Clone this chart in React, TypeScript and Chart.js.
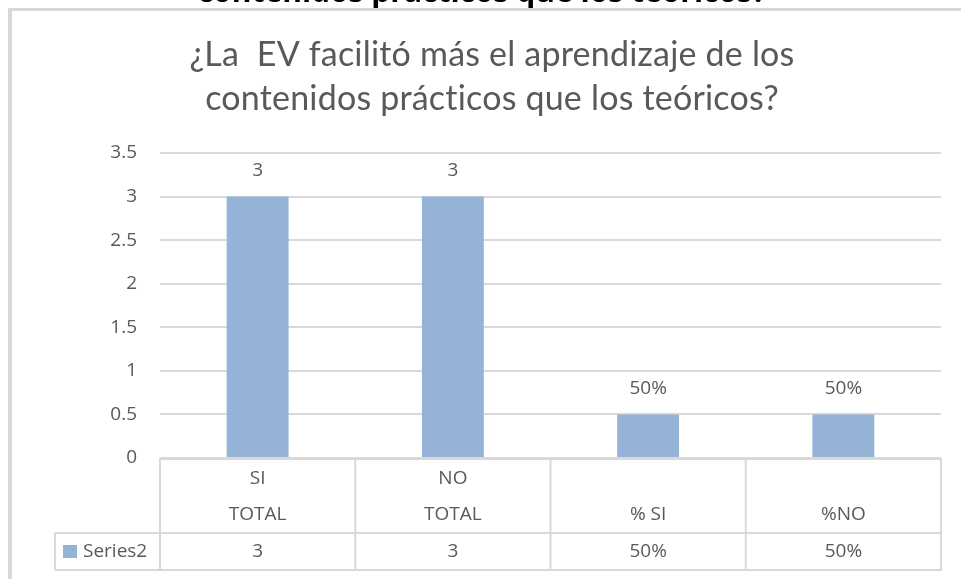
import { useEffect, useRef } from "react";
import { Chart, registerables } from "chart.js";
Chart.register(...registerables);

const pageHeading = "contenidos prácticos que los teóricos?";
const titleLines = ["¿La  EV facilitó más el aprendizaje de los", "contenidos prácticos que los teóricos?"];
const categories = [["SI", "TOTAL"], ["NO", "TOTAL"], ["% SI"], ["%NO"]];
const seriesName = "Series2";
const values = [3, 3, 0.5, 0.5];
const valueLabels = ["3", "3", "50%", "50%"];
const yMax = 3.5;
const yStep = 0.5;

const FONT = "'Open Sans', sans-serif";
const TITLE_FONT = "'Lato', sans-serif";
const TEXT = "#595959";
const LINE = "#d9d9d9";
const BAR = "#95B3D7";

const decor = {
  id: "decor",
  beforeDraw(chart: any) {
    const ctx = chart.ctx;
    ctx.save();
    ctx.fillStyle = "#ffffff";
    ctx.fillRect(0, 0, chart.width, chart.height);
    // heading (cut off at the top)
    ctx.fillStyle = "#000000";
    ctx.font = `bold 30px ${FONT}`;
    ctx.textAlign = "center";
    ctx.textBaseline = "alphabetic";
    ctx.fillText(pageHeading, 482, 2);
    ctx.fillStyle = "#ffffff";
    ctx.fillRect(0, 8, chart.width, chart.height);
    // chart frame
    ctx.fillStyle = LINE;
    ctx.fillRect(8, 8, 4, chart.height);
    ctx.fillRect(8, 8, chart.width, 3);
    // title (scaled horizontally to the reference's narrow face)
    ctx.fillStyle = TEXT;
    ctx.font = `400 35px ${TITLE_FONT}`;
    try {
      (ctx as any).letterSpacing = "0.2px";
    } catch (e) {}
    ctx.textAlign = "center";
    ctx.textBaseline = "alphabetic";
    const w = ctx.measureText(titleLines[0]).width;
    const sx = 605 / w;
    ctx.save();
    ctx.translate(492, 0);
    ctx.scale(sx, 1);
    ctx.fillText(titleLines[0], 0, 66);
    ctx.fillText(titleLines[1], 0, 110);
    ctx.restore();
    try {
      (ctx as any).letterSpacing = "0px";
    } catch (e) {}
    ctx.restore();
  },
  afterDatasetsDraw(chart: any) {
    const ctx = chart.ctx;
    const area = chart.chartArea;
    const meta = chart.getDatasetMeta(0);
    ctx.save();
    ctx.fillStyle = TEXT;
    ctx.font = `19px ${FONT}`;
    ctx.textAlign = "center";
    ctx.textBaseline = "middle";
    meta.data.forEach((bar: any, i: number) => {
      ctx.fillText(valueLabels[i], bar.x, bar.y - 26);
    });
    // data table
    const n = categories.length;
    const colW = (area.right - area.left) / n;
    const top = area.bottom;
    const mid = top + 75;
    const bot = top + 112;
    const legL = 55;
    ctx.strokeStyle = LINE;
    ctx.lineWidth = 2;
    ctx.beginPath();
    ctx.moveTo(area.left, top + 1);
    ctx.lineTo(area.right + 1, top + 1);
    ctx.moveTo(legL, mid);
    ctx.lineTo(area.right + 1, mid);
    ctx.moveTo(legL, bot);
    ctx.lineTo(area.right + 1, bot);
    ctx.moveTo(legL, mid);
    ctx.lineTo(legL, bot);
    for (let i = 0; i <= n; i++) {
      const x = area.left + i * colW;
      ctx.moveTo(x, top);
      ctx.lineTo(x, bot);
    }
    ctx.stroke();
    ctx.fillStyle = TEXT;
    for (let i = 0; i < n; i++) {
      const cx = area.left + (i + 0.5) * colW;
      const lines = categories[i];
      lines.forEach((t, j) => {
        const y = top + 57 - (lines.length - 1 - j) * 36;
        ctx.fillText(t, cx, y);
      });
      ctx.fillText(valueLabels[i], cx, top + 94);
    }
    ctx.fillStyle = BAR;
    ctx.fillRect(63, top + 87, 14, 13);
    ctx.fillStyle = TEXT;
    ctx.textAlign = "left";
    ctx.fillText(seriesName, 83, top + 94);
    ctx.restore();
  },
};

export default function App() {
  const ref = useRef<HTMLCanvasElement | null>(null);
  useEffect(() => {
    if (!ref.current) return;
    const chart = new Chart(ref.current, {
      type: "bar",
      data: {
        labels: categories.map((c) => c.join(" ")),
        datasets: [
          {
            label: seriesName,
            data: values,
            backgroundColor: BAR,
            barPercentage: 0.317,
            categoryPercentage: 1,
          },
        ],
      },
      options: {
        animation: false,
        responsive: false,
        devicePixelRatio: 1,
        layout: { padding: { left: 0, right: 20, top: 153, bottom: 121 } },
        plugins: { legend: { display: false }, tooltip: { enabled: false }, title: { display: false } },
        scales: {
          x: { display: false },
          y: {
            min: 0,
            max: yMax,
            ticks: {
              stepSize: yStep,
              color: TEXT,
              font: { family: FONT, size: 19 },
              padding: 23,
              callback: (v: any) => String(Number(v)),
            },
            grid: { color: LINE, lineWidth: 2, drawTicks: false },
            border: { display: false },
            afterFit: (s: any) => {
              s.width = 160;
            },
          },
        },
      },
      plugins: [decor],
    });
    return () => chart.destroy();
  }, []);
  return (
    <canvas
      ref={ref}
      width={961}
      height={579}
      style={{ position: "fixed", left: 0, top: 0, width: 961, height: 579 }}
    />
  );
}
